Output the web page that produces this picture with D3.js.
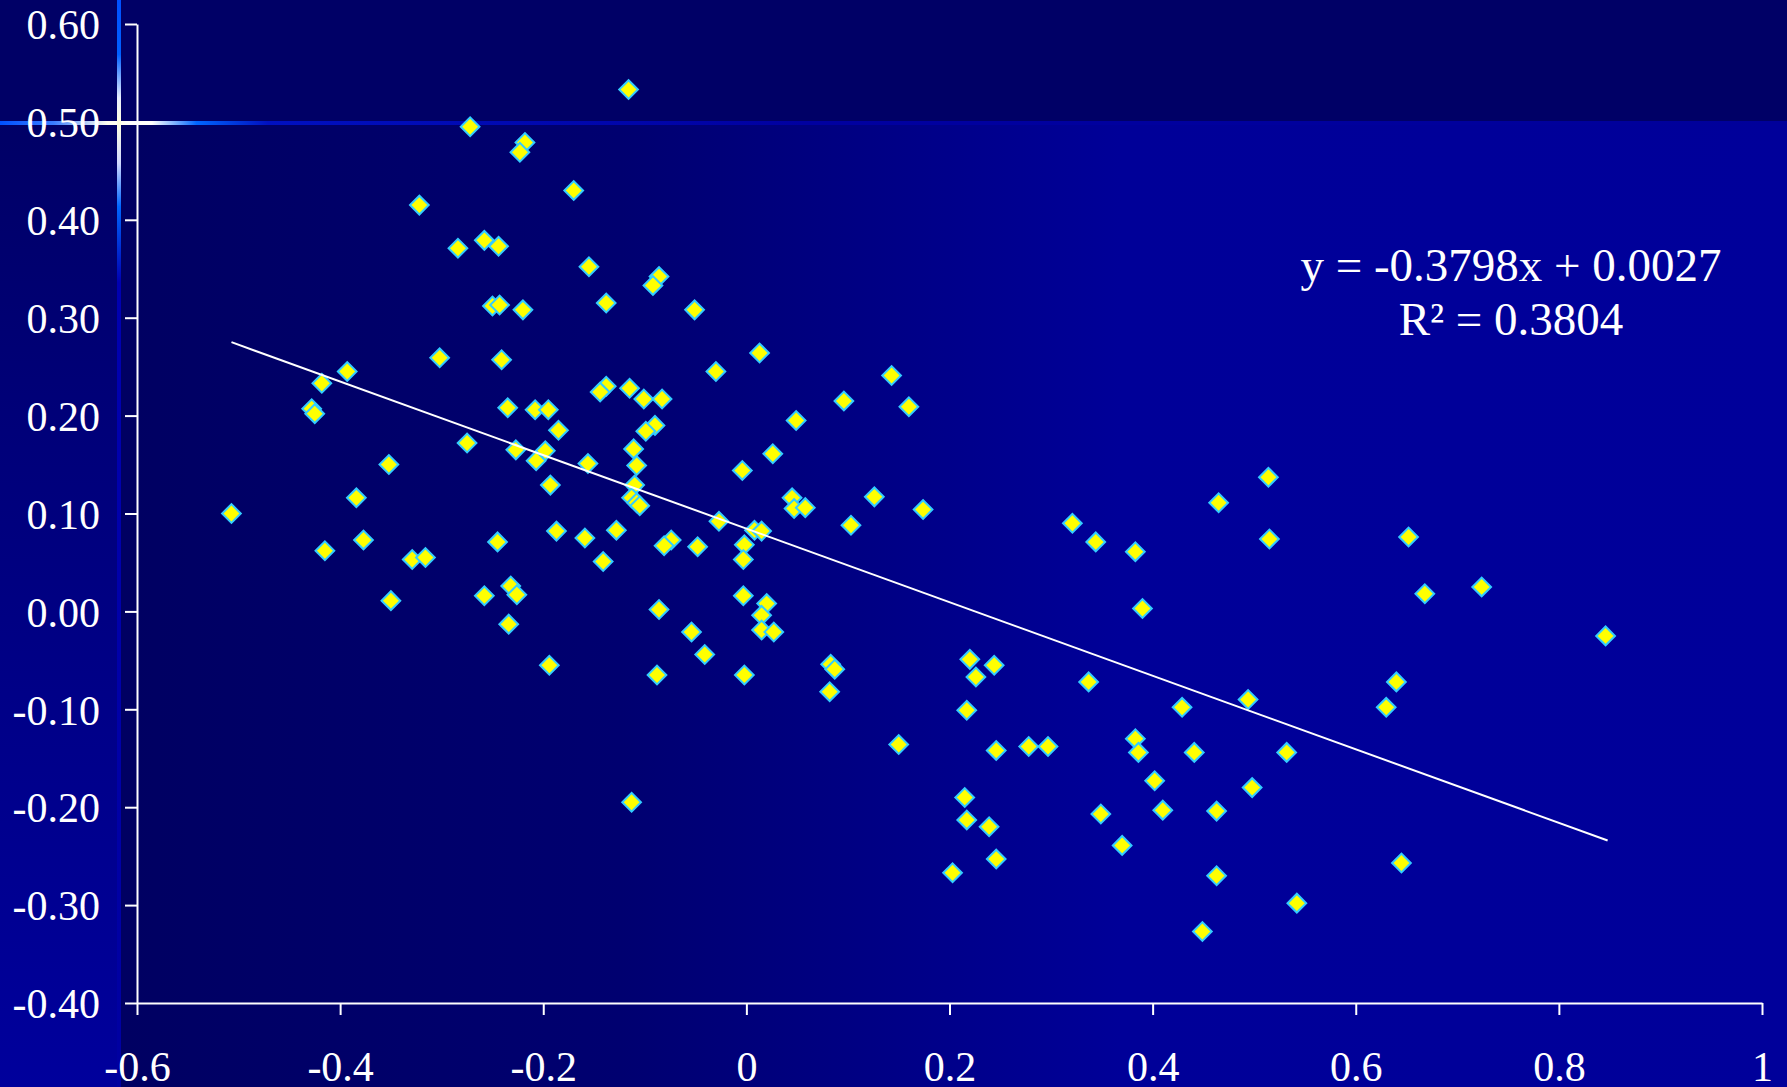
<!DOCTYPE html>
<html>
<head>
<meta charset="utf-8">
<script src="https://cdn.jsdelivr.net/npm/d3@7"></script>
<style>
    html, body { margin: 0; padding: 0; background: #000066; overflow: hidden; }
    svg { display: block; }
    .tick text, .eq { font-family: "Liberation Serif", "Times New Roman", serif; fill: #fff; }
</style>
</head>
<body>
<svg id="chart" width="1787" height="1087"></svg>
<script>
    'use strict';

    var xValues = [
        -0.507, -0.116, -0.272, -0.218, -0.223, -0.170, -0.322, -0.284, -0.258, -0.244,
        -0.155, -0.086, -0.092, -0.250, -0.243, -0.220, -0.138, -0.051, 0.013, -0.302,
        -0.241, -0.393, -0.030, 0.143, -0.418, -0.138, -0.144, -0.115, -0.101, -0.083,
        0.096, 0.160, -0.428, -0.425, -0.235, -0.208, -0.195, 0.049, -0.090, -0.099,
        -0.185, -0.275, -0.111, -0.227, -0.198, 0.026, -0.207, -0.352, -0.156, -0.108,
        -0.004, -0.110, -0.193, -0.384, 0.126, 0.045, -0.113, -0.108, -0.105, 0.514,
        0.465, 0.047, 0.058, 0.174, -0.027, 0.103, 0.321, 0.008, 0.015, -0.187,
        -0.128, 0.652, -0.377, -0.159, -0.245, -0.074, 0.344, 0.515, -0.081, -0.048,
        -0.002, -0.415, 0.383, -0.329, -0.316, -0.141, -0.003, -0.232, 0.724, -0.258,
        -0.226, -0.003, 0.668, -0.350, 0.020, -0.086, 0.390, 0.015, -0.234, -0.054,
        0.015, 0.027, 0.846, -0.041, 0.220, 0.244, -0.194, 0.083, 0.087, 0.226,
        -0.088, -0.002, 0.337, 0.640, 0.082, 0.494, 0.630, 0.429, 0.217, 0.383,
        0.150, 0.278, 0.297, 0.246, 0.386, 0.441, 0.532, 0.402, 0.498, 0.215,
        -0.113, 0.410, 0.463, 0.349, 0.217, 0.239, 0.370, 0.246, 0.645, 0.203,
        0.463, 0.542, 0.449
    ];

    var yValues = [
        0.100, 0.533, 0.495, 0.479, 0.469, 0.430, 0.415, 0.371, 0.379, 0.373,
        0.352, 0.342, 0.333, 0.312, 0.313, 0.308, 0.315, 0.308, 0.264, 0.259,
        0.257, 0.245, 0.245, 0.241, 0.233, 0.230, 0.224, 0.228, 0.217, 0.217,
        0.215, 0.209, 0.207, 0.202, 0.208, 0.206, 0.206, 0.195, 0.190, 0.184,
        0.185, 0.172, 0.166, 0.165, 0.164, 0.161, 0.154, 0.150, 0.151, 0.149,
        0.144, 0.129, 0.129, 0.116, 0.117, 0.116, 0.116, 0.111, 0.108, 0.137,
        0.111, 0.105, 0.106, 0.104, 0.092, 0.088, 0.090, 0.083, 0.082, 0.082,
        0.083, 0.076, 0.073, 0.075, 0.071, 0.073, 0.071, 0.074, 0.067, 0.066,
        0.068, 0.062, 0.061, 0.053, 0.055, 0.051, 0.053, 0.026, 0.025, 0.016,
        0.017, 0.016, 0.018, 0.011, 0.008, 0.002, 0.003, -0.004, -0.013, -0.021,
        -0.019, -0.021, -0.025, -0.044, -0.049, -0.055, -0.055, -0.054, -0.059, -0.067,
        -0.065, -0.065, -0.072, -0.072, -0.082, -0.090, -0.098, -0.098, -0.101, -0.130,
        -0.136, -0.138, -0.138, -0.142, -0.144, -0.144, -0.144, -0.173, -0.180, -0.190,
        -0.195, -0.203, -0.204, -0.207, -0.213, -0.220, -0.239, -0.253, -0.257, -0.267,
        -0.270, -0.298, -0.327
    ];

    // trend line end points as drawn in the picture
    var trendX = [-0.507, 0.848];
    var trendY = [0.275, -0.234];

    var xTicks = [-0.6, -0.4, -0.2, 0, 0.2, 0.4, 0.6, 0.8, 1];
    var xTickLabels = ['-0.6', '-0.4', '-0.2', '0', '0.2', '0.4', '0.6', '0.8', '1'];
    var yTicks = [-0.4, -0.3, -0.2, -0.1, 0, 0.1, 0.2, 0.3, 0.4, 0.5, 0.6];
    var yTickLabels = ['-0.40', '-0.30', '-0.20', '-0.10', '0.00', '0.10', '0.20', '0.30', '0.40', '0.50', '0.60'];

    var equationLines = ['y = -0.3798x + 0.0027', 'R\u00B2 = 0.3804'];

    var W = 1787, H = 1087;
    var svg = d3.select('#chart');
    var defs = svg.append('defs');

    function linear(id, x1, y1, x2, y2, stops) {
        var g = defs.append('linearGradient').attr('id', id)
            .attr('gradientUnits', 'userSpaceOnUse')
            .attr('x1', x1).attr('y1', y1).attr('x2', x2).attr('y2', y2);
        stops.forEach(function (s) {
            g.append('stop').attr('offset', s[0]).attr('stop-color', s[1]);
        });
    }

    var bandY = 123, stripX = 119;

    linear('plotBg', 121, 0, W, 0, [[0, '#000062'], [0.3, '#000070'], [0.6, '#000098'], [1, '#00009a']]);
    linear('stripBg', 0, bandY, 0, H, [[0, '#000066'], [0.3, '#000078'], [1, '#00009c']]);
    linear('glowH', 0, 0, W, 0, [[0, '#0050ff'], [0.03, '#3a7dff'], [0.06, '#fffff0'], [0.085, '#ffffff'],
        [0.11, '#0066ff'], [0.15, '#0010c0'], [0.45, '#0000a0'], [1, '#00009a']]);
    linear('glowV', 0, 0, 0, H, [[0, '#0050ff'], [0.05, '#0060ff'], [0.09, '#e8eeff'], [0.113, '#ffffe0'],
        [0.15, '#d0d8ff'], [0.19, '#0066ff'], [0.26, '#0000b0'], [1, '#0000a0']]);

    // slide background
    svg.append('rect').attr('width', W).attr('height', H).attr('fill', '#000066');
    svg.append('rect').attr('x', 0).attr('y', bandY).attr('width', stripX).attr('height', H - bandY)
        .attr('fill', 'url(#stripBg)');
    svg.append('rect').attr('x', stripX).attr('y', bandY).attr('width', W - stripX).attr('height', H - bandY)
        .attr('fill', 'url(#plotBg)');
    svg.append('rect').attr('x', 0).attr('y', bandY - 2).attr('width', W).attr('height', 4)
        .attr('fill', 'url(#glowH)');
    svg.append('rect').attr('x', stripX - 2).attr('y', 0).attr('width', 4).attr('height', H)
        .attr('fill', 'url(#glowV)');

    var x = d3.scaleLinear().domain([-0.6, 1]).range([137, 1762]);
    var y = d3.scaleLinear().domain([-0.4, 0.6]).range([1003, 24]);

    var xAxis = d3.axisBottom(x).tickValues(xTicks).tickSize(12).tickPadding(36)
        .tickFormat(function (d, i) { return xTickLabels[i]; });
    var yAxis = d3.axisLeft(y).tickValues(yTicks).tickSize(12).tickPadding(25)
        .tickFormat(function (d, i) { return yTickLabels[i]; });

    function styleAxis(g) {
        g.select('.domain').attr('stroke', '#fff').attr('stroke-width', 2);
        g.selectAll('.tick line').attr('stroke', '#fff').attr('stroke-width', 2);
        g.selectAll('.tick text').attr('font-size', 42).attr('fill', '#fff')
            .style('font-family', '"Liberation Serif", "Times New Roman", serif');
    }

    svg.append('g').attr('transform', 'translate(0,' + y(-0.4) + ')')
        .call(xAxis.tickSizeOuter(0)).call(styleAxis);
    svg.append('g').attr('transform', 'translate(' + x(-0.6) + ',0)')
        .call(yAxis.tickSizeOuter(0)).call(styleAxis)
        .selectAll('.tick text').attr('dy', '0.35em');

    var points = xValues.map(function (v, i) { return [v, yValues[i]]; });
    var diamond = d3.symbol().type(d3.symbolSquare).size(175);

    svg.append('g').selectAll('path')
        .data(points)
        .enter().append('path')
        .attr('d', diamond)
        .attr('transform', function (d) {
            return 'translate(' + x(d[0]) + ',' + y(d[1]) + ') rotate(45)';
        })
        .attr('fill', '#ffff00')
        .attr('stroke', '#33ccff')
        .attr('stroke-width', 2);

    var trend = trendX.map(function (v, i) { return [v, trendY[i]]; });
    svg.append('path')
        .datum(trend)
        .attr('d', d3.line().x(function (d) { return x(d[0]); }).y(function (d) { return y(d[1]); }))
        .attr('stroke', '#fff')
        .attr('stroke-width', 2)
        .attr('fill', 'none');

    svg.append('g').selectAll('text')
        .data(equationLines)
        .enter().append('text')
        .attr('class', 'eq')
        .attr('x', 1511)
        .attr('y', function (d, i) { return 281 + i * 54; })
        .attr('text-anchor', 'middle')
        .attr('font-size', 47)
        .text(function (d) { return d; });
</script>
</body>
</html>
